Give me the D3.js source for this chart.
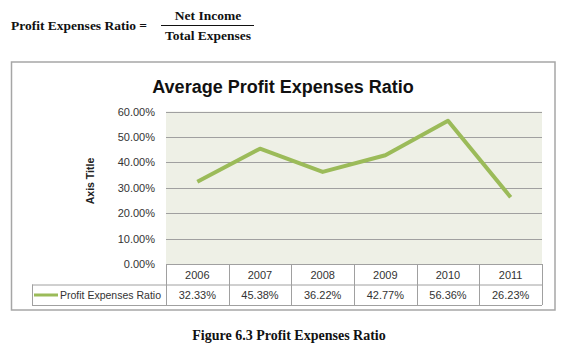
<!DOCTYPE html>
<html>
<head>
<meta charset="utf-8">
<script src="https://cdn.jsdelivr.net/npm/d3@7"></script>
<style>
  body { margin: 0; background: #fff; }
  svg { display: block; }
</style>
</head>
<body>
<script>
// profit expenses ratio line chart with data table

const width = 566;
const height = 353;

const years = ['2006', '2007', '2008', '2009', '2010', '2011'];
const ratios = [0.3233, 0.4538, 0.3622, 0.4277, 0.5636, 0.2623];
const yTicks = [0, 0.1, 0.2, 0.3, 0.4, 0.5, 0.6];
const seriesName = 'Profit Expenses Ratio';

const plot = {left: 166, right: 542, top: 111.5, bottom: 264};
const rowH = 20.5;
const green = '#9bbb59';
const grid = '#a0a0a0';
const sans = '"Liberation Sans", Arial, sans-serif';
const serif = '"Liberation Serif", "Times New Roman", serif';

const x = d3.scaleBand()
    .domain(years)
    .range([plot.left, plot.right])
    .padding(0);

const y = d3.scaleLinear()
    .domain([0, 0.6])
    .range([plot.bottom, plot.top]);

const svg = d3.select('body').append('svg')
    .attr('width', width)
    .attr('height', height);

// formula at the top
const formula = svg.append('g')
    .attr('font-family', serif)
    .attr('font-weight', 'bold')
    .attr('font-size', 13.5)
    .attr('fill', '#111');
formula.append('text').attr('x', 11).attr('y', 30).text('Profit Expenses Ratio =');
formula.append('text').attr('x', 208).attr('y', 20).attr('text-anchor', 'middle').text('Net Income');
formula.append('line')
    .attr('x1', 161).attr('x2', 254).attr('y1', 25.5).attr('y2', 25.5)
    .attr('stroke', '#111').attr('stroke-width', 1);
formula.append('text').attr('x', 208).attr('y', 40).attr('text-anchor', 'middle').text('Total Expenses');

// chart frame
svg.append('rect')
    .attr('x', 11.5).attr('y', 62)
    .attr('width', 543.5).attr('height', 248)
    .attr('fill', '#fff')
    .attr('stroke', '#a6a6a6')
    .attr('stroke-width', 1.5);

svg.append('text')
    .attr('x', 283).attr('y', 93)
    .attr('text-anchor', 'middle')
    .attr('font-family', sans)
    .attr('font-weight', 'bold')
    .attr('font-size', 18)
    .attr('fill', '#111')
    .text('Average Profit Expenses Ratio');

// plot background
svg.append('rect')
    .attr('x', plot.left).attr('y', plot.top)
    .attr('width', plot.right - plot.left)
    .attr('height', plot.bottom - plot.top)
    .attr('fill', '#eef0e6');

// gridlines + y axis
const yAxis = g => g
    .attr('transform', `translate(${plot.left}, 0)`)
    .call(d3.axisLeft(y).tickValues(yTicks).tickFormat(d3.format('.2%')).tickSize(0).tickPadding(11))
    .call(g => g.select('.domain').remove())
    .call(g => g.selectAll('text')
        .attr('font-family', sans)
        .attr('font-size', 11)
        .attr('fill', '#333'));
svg.append('g').call(yAxis);

svg.append('g')
    .selectAll('line').data(yTicks).enter().append('line')
    .attr('x1', plot.left).attr('x2', plot.right)
    .attr('y1', d => Math.round(y(d)) + 0.5)
    .attr('y2', d => Math.round(y(d)) + 0.5)
    .attr('stroke', grid)
    .attr('stroke-width', 1);

svg.append('text')
    .attr('transform', `translate(94, 181) rotate(-90)`)
    .attr('text-anchor', 'middle')
    .attr('font-family', sans)
    .attr('font-weight', 'bold')
    .attr('font-size', 10.5)
    .attr('fill', '#222')
    .text('Axis Title');

// data table under the plot
const table = svg.append('g')
    .attr('stroke', grid)
    .attr('stroke-width', 1)
    .attr('fill', 'none');
const tTop = plot.bottom;
const tMid = tTop + rowH;
const tBot = tMid + rowH;
table.append('line').attr('x1', plot.left).attr('x2', plot.right).attr('y1', tMid + 0.5).attr('y2', tMid + 0.5);
table.append('line').attr('x1', 32).attr('x2', plot.right).attr('y1', tBot + 0.5).attr('y2', tBot + 0.5);
table.append('line').attr('x1', 32.5).attr('x2', 32.5).attr('y1', tMid).attr('y2', tBot);
table.append('line').attr('x1', 32).attr('x2', plot.left).attr('y1', tMid + 0.5).attr('y2', tMid + 0.5);
table.selectAll('line.col').data(years.concat(['end'])).enter().append('line')
    .attr('class', 'col')
    .attr('x1', (d, i) => Math.round(plot.left + i * x.bandwidth()) + 0.5)
    .attr('x2', (d, i) => Math.round(plot.left + i * x.bandwidth()) + 0.5)
    .attr('y1', tTop).attr('y2', tBot);

const cells = svg.append('g')
    .attr('font-family', sans)
    .attr('font-size', 11)
    .attr('fill', '#333')
    .attr('text-anchor', 'middle');
cells.selectAll('text.year').data(years).enter().append('text')
    .attr('class', 'year')
    .attr('x', d => x(d) + x.bandwidth() / 2)
    .attr('y', tTop + 14.5)
    .text(d => d);
cells.selectAll('text.val').data(ratios).enter().append('text')
    .attr('class', 'val')
    .attr('x', (d, i) => x(years[i]) + x.bandwidth() / 2)
    .attr('y', tMid + 14.5)
    .text(d => d3.format('.2%')(d));

// legend key in the table
svg.append('line')
    .attr('x1', 34).attr('x2', 58)
    .attr('y1', tMid + 10.5).attr('y2', tMid + 10.5)
    .attr('stroke', green)
    .attr('stroke-width', 3);
svg.append('text')
    .attr('x', 60).attr('y', tMid + 14.5)
    .attr('font-family', sans)
    .attr('font-size', 10.5)
    .attr('fill', '#333')
    .text(seriesName);

// the line
const line = d3.line()
    .x((d, i) => x(years[i]) + x.bandwidth() / 2)
    .y(d => y(d));
svg.append('path')
    .datum(ratios)
    .attr('d', line)
    .attr('fill', 'none')
    .attr('stroke', green)
    .attr('stroke-width', 4)
    .attr('stroke-linejoin', 'round');

// caption
svg.append('text')
    .attr('x', 289).attr('y', 340)
    .attr('text-anchor', 'middle')
    .attr('font-family', serif)
    .attr('font-weight', 'bold')
    .attr('font-size', 14)
    .attr('fill', '#111')
    .text('Figure 6.3 Profit Expenses Ratio');

svg.node();
</script>
</body>
</html>
